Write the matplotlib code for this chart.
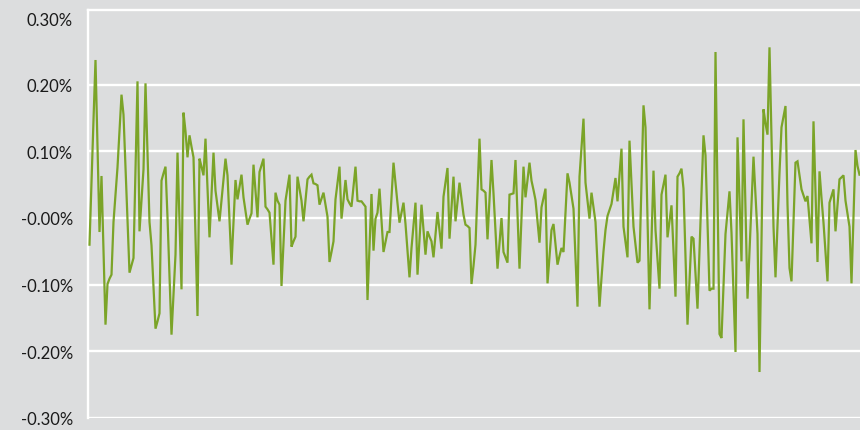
import matplotlib
matplotlib.use("Agg")
import matplotlib.pyplot as plt
import numpy as np

# Daily return series (in %)
returns = [
    -0.040, 0.056, 0.147, 0.237, 0.108, -0.021, 0.063, -0.046, -0.160, -0.099,
    -0.091, -0.085, -0.006, 0.035, 0.076, 0.130, 0.185, 0.155, 0.076, -0.004,
    -0.082, -0.071, -0.060, 0.073, 0.205, -0.020, 0.026, 0.073, 0.202, 0.098,
    -0.006, -0.041, -0.103, -0.166, -0.155, -0.143, 0.056, 0.067, 0.077, 0.001,
    -0.086, -0.175, -0.115, -0.055, 0.098, -0.004, -0.107, 0.158, 0.130, 0.091,
    0.124, 0.107, 0.091, -0.028, -0.147, 0.089, 0.077, 0.064, 0.119, 0.045,
    -0.029, 0.035, 0.098, 0.041, 0.018, -0.005, 0.026, 0.058, 0.089, 0.064,
    -0.003, -0.070, -0.006, 0.057, 0.028, 0.047, 0.065, 0.031, 0.010, -0.010,
    -0.001, 0.007, 0.080, 0.040, 0.001, 0.069, 0.079, 0.089, 0.017, 0.013,
    0.008, -0.031, -0.070, 0.038, 0.026, 0.020, -0.102, -0.038, 0.026, 0.045,
    0.065, -0.043, -0.035, -0.028, 0.062, 0.044, 0.026, -0.005, 0.027, 0.058,
    0.062, 0.065, 0.052, 0.051, 0.049, 0.020, 0.029, 0.038, 0.020, 0.002,
    -0.066, -0.051, -0.035, 0.028, 0.053, 0.077, -0.001, 0.027, 0.057, 0.028,
    0.022, 0.017, 0.047, 0.077, 0.026, 0.025, 0.025, 0.021, 0.017, -0.123,
    -0.044, 0.036, -0.049, -0.001, 0.008, 0.044, -0.003, -0.051, -0.036, -0.021,
    -0.021, 0.031, 0.083, 0.052, 0.022, -0.007, 0.008, 0.023, -0.009, -0.049,
    -0.089, -0.045, -0.011, 0.023, -0.085, -0.032, 0.020, -0.017, -0.055, -0.020,
    -0.028, -0.035, -0.059, -0.025, 0.009, -0.019, -0.046, 0.032, 0.053, 0.075,
    -0.031, 0.015, 0.062, -0.005, 0.024, 0.053, 0.029, 0.005, -0.010, -0.012,
    -0.015, -0.099, -0.072, -0.040, 0.039, 0.119, 0.043, 0.041, 0.038, -0.032,
    0.027, 0.087, 0.037, -0.019, -0.076, -0.038, 0.000, -0.051, -0.059, -0.067,
    0.035, 0.036, 0.037, 0.087, 0.005, -0.076, 0.000, 0.077, 0.031, 0.057,
    0.083, 0.056, 0.042, 0.027, -0.005, -0.037, 0.016, 0.030, 0.044, -0.098,
    -0.058, -0.018, -0.009, -0.039, -0.070, -0.057, -0.045, -0.051, 0.008, 0.067,
    0.053, 0.034, 0.014, -0.059, -0.133, 0.062, 0.105, 0.149, 0.053, 0.026,
    -0.001, 0.038, 0.016, -0.006, -0.070, -0.133, -0.090, -0.050, -0.018, 0.003,
    0.012, 0.021, 0.040, 0.060, 0.025, 0.064, 0.104, -0.013, -0.036, -0.059,
    0.116, 0.052, -0.013, -0.040, -0.067, -0.064, 0.053, 0.169, 0.136, 0.000,
    -0.137, -0.033, 0.071, -0.018, -0.062, -0.106, 0.035, 0.050, 0.065, -0.029,
    -0.005, 0.019, -0.049, -0.118, 0.062, 0.067, 0.074, 0.044, -0.058, -0.160,
    -0.094, -0.028, -0.031, -0.084, -0.136, -0.050, 0.037, 0.124, 0.094, -0.008,
    -0.109, -0.106, -0.106, 0.249, 0.038, -0.174, -0.180, -0.102, -0.024, 0.008,
    0.040, -0.022, -0.111, -0.201, 0.121, 0.028, -0.065, 0.148, 0.013, -0.121,
    -0.050, 0.020, 0.092, 0.034, -0.024, -0.231, -0.034, 0.163, 0.142, 0.125,
    0.256, 0.122, -0.013, -0.089, -0.011, 0.068, 0.136, 0.152, 0.168, 0.020,
    -0.075, -0.095, -0.006, 0.083, 0.085, 0.064, 0.043, 0.034, 0.025, 0.033,
    -0.002, -0.038, 0.145, 0.040, -0.066, 0.070, 0.030, -0.007, -0.050, -0.095,
    0.023, 0.033, 0.043, -0.020, 0.020, 0.058, 0.061, 0.064, 0.026, 0.006,
    -0.013, -0.098, 0.000, 0.102, 0.078, 0.065,
]

tick_values = [0.30, 0.20, 0.10, 0.00, -0.10, -0.20, -0.30]
tick_labels = ["0.30%", "0.20%", "0.10%", "-0.00%", "-0.10%", "-0.20%", "-0.30%"]
grid_values = [0.20, 0.10, 0.00, -0.10, -0.20, -0.30]

BG = "#dcddde"
LINE = "#7ba428"

fig = plt.figure(figsize=(8.6, 4.31), dpi=100, facecolor=BG)
ax = fig.add_axes([87.5 / 860, 12 / 431, 1 - 87.5 / 860, 408 / 431])
ax.set_facecolor(BG)

x = np.arange(1, len(returns) + 1)

for g in grid_values:
    ax.axhline(g, color="white", lw=1.7, zorder=1)

ax.plot(x, returns, color=LINE, lw=1.6, zorder=3, solid_joinstyle="miter")

ax.set_xlim(0, 386.25)
ax.set_ylim(-0.30, 0.312)

for side in ["right", "bottom"]:
    ax.spines[side].set_visible(False)
for side in ["left", "top"]:
    ax.spines[side].set_color("white")
    ax.spines[side].set_linewidth(1.7)

ax.set_xticks([])
ax.set_yticks(tick_values)
ax.set_yticklabels(tick_labels, fontsize=12, family=["Lato", "DejaVu Sans"], color="#1a1a1a")
ax.tick_params(axis="y", length=0, pad=10.5)

fig.savefig("out.png", dpi=100, facecolor=BG)
